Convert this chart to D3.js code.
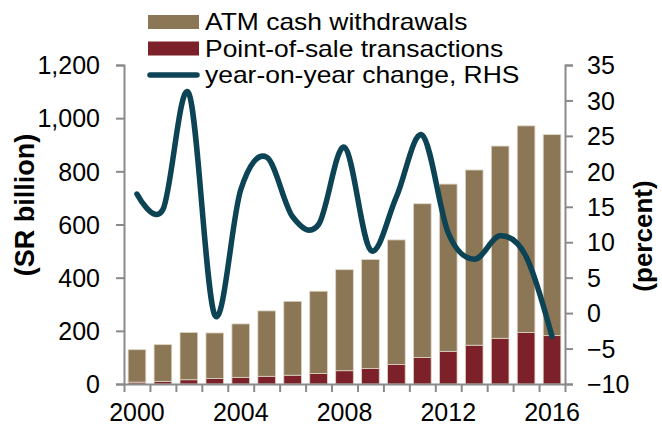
<!DOCTYPE html>
<html>
<head>
<meta charset="utf-8">
<script src="https://cdn.jsdelivr.net/npm/d3@7"></script>
<style>
  html, body { margin: 0; padding: 0; background: #fff; }
  svg { display: block; font-family: "Liberation Sans", Arial, sans-serif; }
</style>
</head>
<body>
<svg id="chart" width="662" height="426"></svg>
<script>
// Card spending in Saudi Arabia, SR billion, with annual growth (RHS)
const years = [2000, 2001, 2002, 2003, 2004, 2005, 2006, 2007, 2008,
               2009, 2010, 2011, 2012, 2013, 2014, 2015, 2016];
const posValues = [7, 10, 16, 21, 25, 29, 33, 40, 50, 58, 73, 100, 123, 146, 172, 194, 182];
const atmValues = [122, 138, 178, 171, 201, 246, 278, 309, 380, 410, 469, 578, 629, 659, 723, 777, 756];
const yoyChange = [16.8, 14.6, 31.0, -0.3, 17.4, 22.0, 13.6, 12.5, 23.4, 8.9, 16.4, 25.1, 11.3, 7.6, 10.9, 8.0, -3.3];
const leftTicks = [0, 200, 400, 600, 800, 1000, 1200];
const rightTicks = [-10, -5, 0, 5, 10, 15, 20, 25, 30, 35];
const yearLabels = [2000, 2004, 2008, 2012, 2016];

const seriesNames = ["ATM cash withdrawals", "Point-of-sale transactions", "year-on-year change, RHS"];
const colors = { atm: "#8b7755", pos: "#7c2129", line: "#0c4355", axis: "#8a8a8a" };

const svg = d3.select("#chart");
const plot = { left: 124, right: 565, top: 65, bottom: 384 };

const x = d3.scaleBand().domain(years).range([plot.left, plot.right])
  .paddingInner(0.32).paddingOuter(0.16);
const yL = d3.scaleLinear().domain([0, 1200]).range([plot.bottom, plot.top]);
const yR = d3.scaleLinear().domain([-10, 35]).range([plot.bottom, plot.top]);

const rows = years.map((yr, i) => ({ year: yr, pos: posValues[i], atm: atmValues[i], yoy: yoyChange[i] }));
const stack = d3.stack().keys(["pos", "atm"])(rows);

// stacked bars
svg.append("g").selectAll("g").data(stack).join("g")
  .attr("fill", d => colors[d.key])
  .selectAll("rect").data(d => d).join("rect")
  .attr("x", d => x(d.data.year))
  .attr("width", x.bandwidth())
  .attr("y", d => yL(d[1]))
  .attr("height", d => yL(d[0]) - yL(d[1]))
  .attr("stroke", "#ddd4c4")
  .attr("stroke-width", 0.8);

// axes
const fontSize = 25;
function styleAxis(g) {
  g.select(".domain").attr("stroke", colors.axis).attr("stroke-width", 2);
  g.selectAll(".tick line").attr("stroke", colors.axis).attr("stroke-width", 2);
  g.selectAll("text").attr("fill", "#000").style("font-size", fontSize + "px")
    .attr("font-family", "Liberation Sans, Arial, sans-serif");
}

svg.append("g").attr("transform", `translate(${plot.left},0)`)
  .call(d3.axisLeft(yL).tickValues(leftTicks).tickFormat(d3.format(",")).tickSizeOuter(0).tickSize(8).tickPadding(16))
  .call(styleAxis)
  .selectAll("text").attr("dy", "0.35em");

svg.append("g").attr("transform", `translate(${plot.right},0)`)
  .call(d3.axisRight(yR).tickValues(rightTicks).tickSizeOuter(0).tickSize(8).tickPadding(14))
  .call(styleAxis)
  .selectAll("text").attr("dy", "0.35em");

// bottom axis: ticks at category boundaries, labels every fourth year
const edge = d3.scaleLinear().domain([0, years.length]).range([plot.left, plot.right]);
svg.append("g").attr("transform", `translate(0,${plot.bottom})`)
  .call(d3.axisBottom(edge).tickValues(d3.range(years.length + 1)).tickFormat("").tickSize(8).tickSizeOuter(0))
  .call(styleAxis);

svg.append("g").attr("transform", `translate(0,${plot.bottom})`)
  .call(d3.axisBottom(x).tickValues(yearLabels).tickSize(0).tickPadding(19))
  .call(styleAxis)
  .call(g => g.select(".domain").remove());

// growth line
const line = d3.line()
  .x(d => x(d.year) + x.bandwidth() / 2)
  .y(d => yR(d.yoy))
  .curve(d3.curveCardinal.tension(0));

svg.append("path").datum(rows)
  .attr("d", line)
  .attr("fill", "none")
  .attr("stroke", colors.line)
  .attr("stroke-width", 5.5)
  .attr("stroke-linecap", "round")
  .attr("stroke-linejoin", "round");

// axis titles
svg.append("text")
  .attr("transform", `translate(34,205) rotate(-90)`)
  .attr("text-anchor", "middle")
  .style("font-size", "27px").style("font-weight", "bold")
  .text("(SR billion)");

svg.append("text")
  .attr("transform", `translate(652,236) rotate(-90)`)
  .attr("text-anchor", "middle")
  .style("font-size", "26px").style("font-weight", "bold")
  .text("(percent)");

// legend: slightly wide lettering in tightly packed rows
const legend = svg.append("g");
const legendRows = [
  { name: seriesNames[0], type: "rect", color: colors.atm, y: 22 },
  { name: seriesNames[1], type: "rect", color: colors.pos, y: 48.5 },
  { name: seriesNames[2], type: "line", color: colors.line, y: 75 }
];
legendRows.forEach(r => {
  if (r.type === "rect") {
    legend.append("rect").attr("x", 148).attr("y", r.y - 7).attr("width", 51).attr("height", 14).attr("fill", r.color);
  } else {
    legend.append("line").attr("x1", 150).attr("x2", 197).attr("y1", r.y).attr("y2", r.y)
      .attr("stroke", r.color).attr("stroke-width", 5.5).attr("stroke-linecap", "round");
  }
  legend.append("text")
    .attr("transform", `translate(205,${r.y}) scale(1.15,1)`)
    .attr("dy", "0.35em")
    .style("font-size", "23px").text(r.name);
});
</script>
</body>
</html>
